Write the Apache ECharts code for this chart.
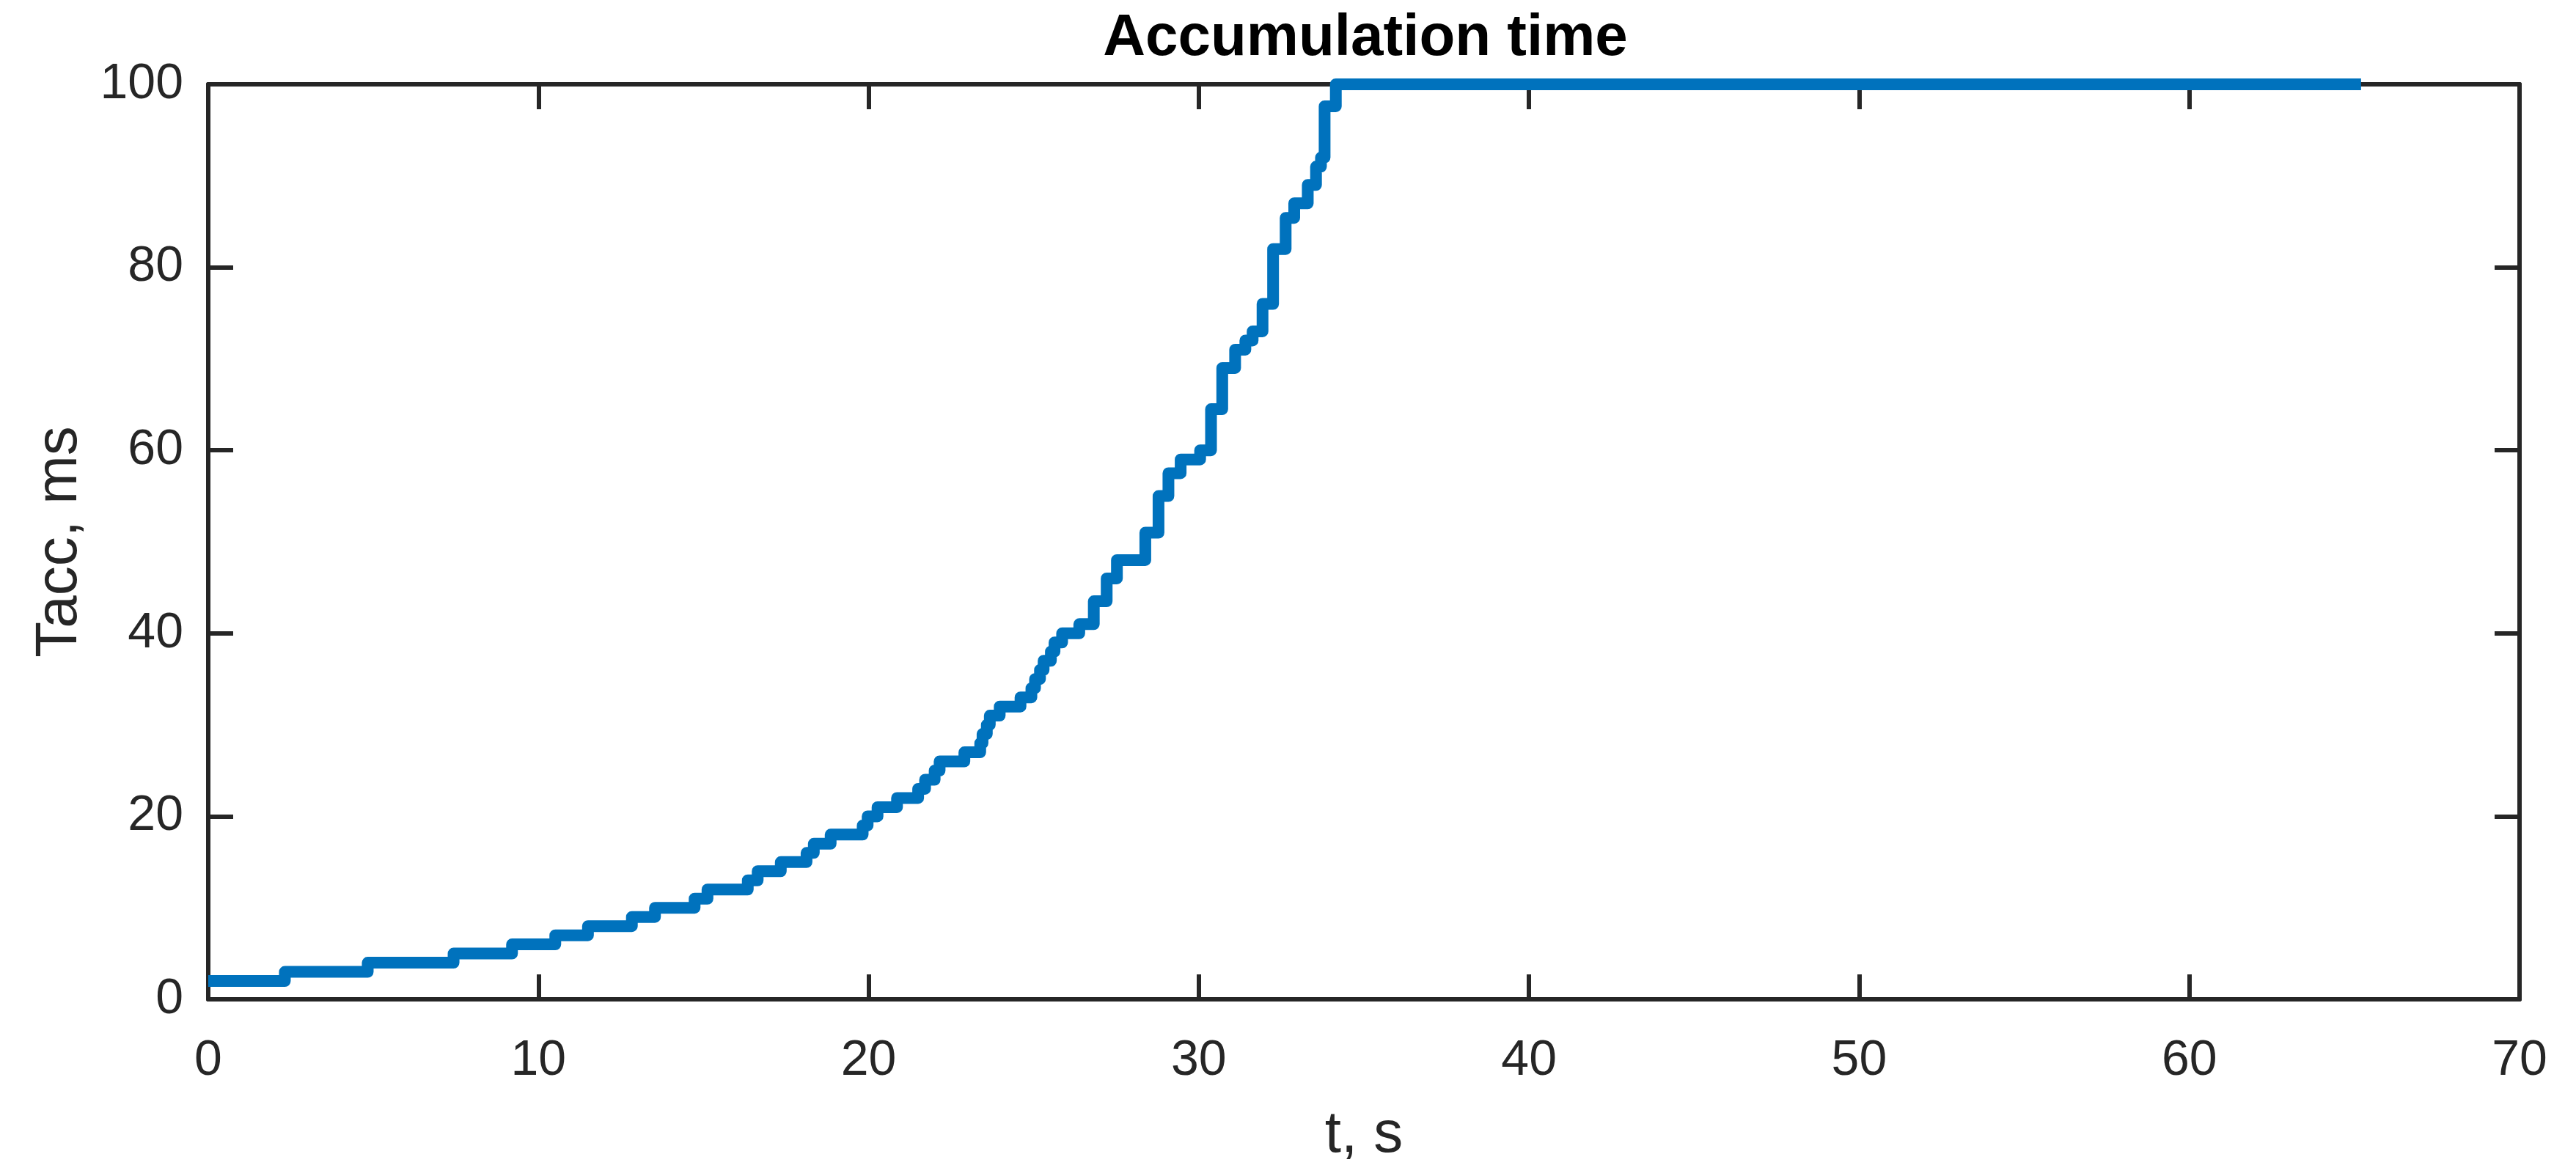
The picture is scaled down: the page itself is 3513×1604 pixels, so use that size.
<!DOCTYPE html>
<html>
<head>
<meta charset="utf-8">
<title>Accumulation time</title>
<script src="https://cdn.jsdelivr.net/npm/echarts@6/dist/echarts.min.js"></script>
<style>
  html, body { margin: 0; padding: 0; background: #fff; }
  #chart { width: 3513px; height: 1604px; }
</style>
</head>
<body>
<div id="chart"></div>
<script>
// step times (s) and the Tacc level (ms) that starts at each time
const stepTimes = [
  0, 2.32, 4.83, 7.43, 9.2, 10.51, 11.5, 12.83, 13.53, 14.73,
  15.12, 16.34, 16.64, 17.34, 18.12, 18.34, 18.85, 19.82, 19.97, 20.27,
  20.86, 21.5, 21.71, 22.0, 22.15, 22.9, 23.38, 23.45, 23.58, 23.67,
  23.97, 24.6, 24.93, 25.04, 25.19, 25.3, 25.52, 25.63, 25.86, 26.38,
  26.82, 27.21, 27.52, 28.38, 28.78, 29.08, 29.45, 30.04, 30.37, 30.71,
  31.1, 31.41, 31.63, 31.93, 32.25, 32.63, 32.89, 33.3, 33.55, 33.7,
  33.81, 34.15, 65.2
];
const stepLevels = [
  2, 3, 4, 5, 6, 7, 8, 9, 10, 11,
  12, 13, 14, 15, 16, 17, 18, 19, 20, 21,
  22, 23, 24, 25, 26, 27, 28, 29, 30, 31,
  32, 33, 34, 35, 36, 37, 38, 39, 40, 41,
  43.5, 46, 48, 51, 55, 57.5, 59, 60, 64.5, 69,
  71, 72, 73, 76, 82, 85.4, 87, 89, 91, 92,
  97.6, 100, 100
];
const xTicks = [0, 70, 10];   // min, max, interval
const yTicks = [0, 100, 20];

const axisColor = '#262626';
const font = '"Liberation Sans", Arial, Helvetica, sans-serif';

const myChart = echarts.init(document.getElementById('chart'));

const seriesData = stepTimes.map((t, i) => [t, stepLevels[i]]);

// box axes: bottom/left carry labels, top/right only mirror the ticks
function boxAxis(extra, ticks) {
  return Object.assign({
    type: 'value',
    min: ticks[0],
    max: ticks[1],
    interval: ticks[2],
    splitLine: { show: false },
    axisLine: { show: true, onZero: false, lineStyle: { color: axisColor, width: 6 } },
    axisTick: { show: true, inside: true, length: 34, lineStyle: { color: axisColor, width: 6 } },
    axisLabel: { show: false }
  }, extra);
}

const option = {
  animation: false,
  backgroundColor: '#ffffff',
  title: {
    text: 'Accumulation time',
    left: 1857,
    top: 8,
    textAlign: 'center',
    textStyle: {
      color: '#000000',
      fontFamily: font,
      fontWeight: 'bold',
      fontSize: 80
    }
  },
  grid: { left: 284, right: 77, top: 115, bottom: 241, containLabel: false },
  xAxis: [
    boxAxis({
      position: 'bottom',
      name: 't, s',
      nameLocation: 'middle',
      nameGap: 146,
      nameTextStyle: { color: axisColor, fontFamily: font, fontSize: 80 },
      axisLabel: { show: true, color: axisColor, fontFamily: font, fontSize: 68, margin: 50 }
    }, xTicks),
    boxAxis({ position: 'top' }, xTicks)
  ],
  yAxis: [
    boxAxis({
      position: 'left',
      name: 'Tacc, ms',
      nameLocation: 'middle',
      nameGap: 162,
      nameTextStyle: { color: axisColor, fontFamily: font, fontSize: 80 },
      axisLabel: { show: true, color: axisColor, fontFamily: font, fontSize: 68, margin: 34 }
    }, yTicks),
    boxAxis({ position: 'right' }, yTicks)
  ],
  series: [
    {
      name: 'Tacc',
      type: 'line',
      xAxisIndex: 0,
      yAxisIndex: 0,
      step: 'end',
      showSymbol: false,
      clip: false,
      lineStyle: { color: '#0072BD', width: 16, join: 'round', cap: 'butt' },
      data: seriesData
    }
  ]
};
myChart.setOption(option);
</script>
</body>
</html>
